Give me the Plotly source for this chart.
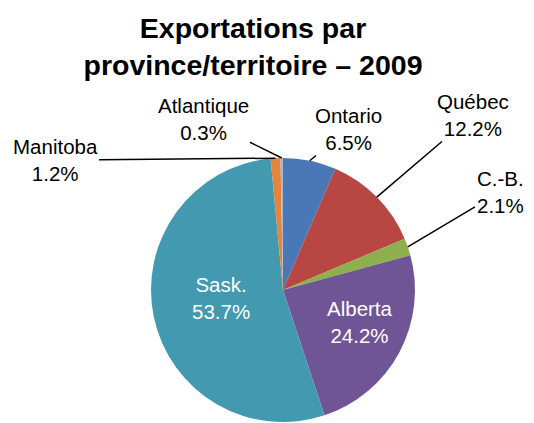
import math
import plotly.graph_objects as go

labels = ["Ontario", "Québec", "C.-B.", "Alberta", "Sask.", "Manitoba", "Atlantique"]
values = [6.5, 12.2, 2.1, 24.2, 53.7, 1.2, 0.3]
colors = ["#4A77B6", "#B84643", "#8DB04D", "#6F5595", "#4299B0", "#E3863B", "#A7B8D3"]
inside = [False, False, False, True, True, False, False]

# label text positions (pixels, center of text block)
label_pos = {
    "Ontario": (340, 121),
    "Québec": (465, 107),
    "C.-B.": (492, 184),
    "Alberta": (352, 314),
    "Sask.": (213, 290),
    "Manitoba": (47, 152),
    "Atlantique": (195, 111),
}

W, H = 534, 423
cx, cy, r = 275, 282, 132

font_family = "Liberation Sans, Arial, sans-serif"
fsize = 20.5

fig = go.Figure(go.Pie(
    labels=labels,
    values=values,
    sort=False,
    direction="clockwise",
    rotation=0,
    marker=dict(colors=colors, line=dict(width=0)),
    textinfo="none",
    showlegend=False,
    hoverinfo="label+value",
    domain=dict(x=[(cx - r) / W, (cx + r) / W], y=[1 - (cy + r) / H, 1 - (cy - r) / H]),
))

total = sum(values)
cum = 0.0
annotations = []
for lab, v, ins in zip(labels, values, inside):
    mid = (cum + v / 2) / total
    cum += v
    px, py = label_pos[lab]
    if ins:
        annotations.append(dict(
            x=px / W, y=1 - py / H, xref="paper", yref="paper",
            text=f"{lab}<br>{v:.1f}%", showarrow=False,
            font=dict(size=fsize, color="white", family=font_family),
            align="center", xanchor="center", yanchor="middle",
        ))
        continue
    th = 2 * math.pi * mid
    tx = cx + r * math.sin(th)
    ty = cy - r * math.cos(th)
    annotations.append(dict(
        x=tx / W, y=1 - ty / H, xref="paper", yref="paper",
        text=f"{lab}<br>{v:.1f}%",
        showarrow=True, arrowhead=0, arrowwidth=1.5, arrowcolor="black",
        ax=px - tx, ay=py - ty, standoff=0,
        font=dict(size=fsize, color="black", family=font_family),
        align="center",
    ))

fig.update_layout(
    width=W, height=H,
    margin=dict(l=0, r=0, t=0, b=0),
    paper_bgcolor="white",
    plot_bgcolor="white",
    title=dict(
        text="<b>Exportations par<br>province/territoire – 2009</b>",
        x=245 / W, xanchor="center",
        y=1 - 30 / H, yanchor="middle",
        font=dict(size=28.5, color="black", family=font_family),
    ),
    annotations=annotations,
)

fig.write_html("out.html")
